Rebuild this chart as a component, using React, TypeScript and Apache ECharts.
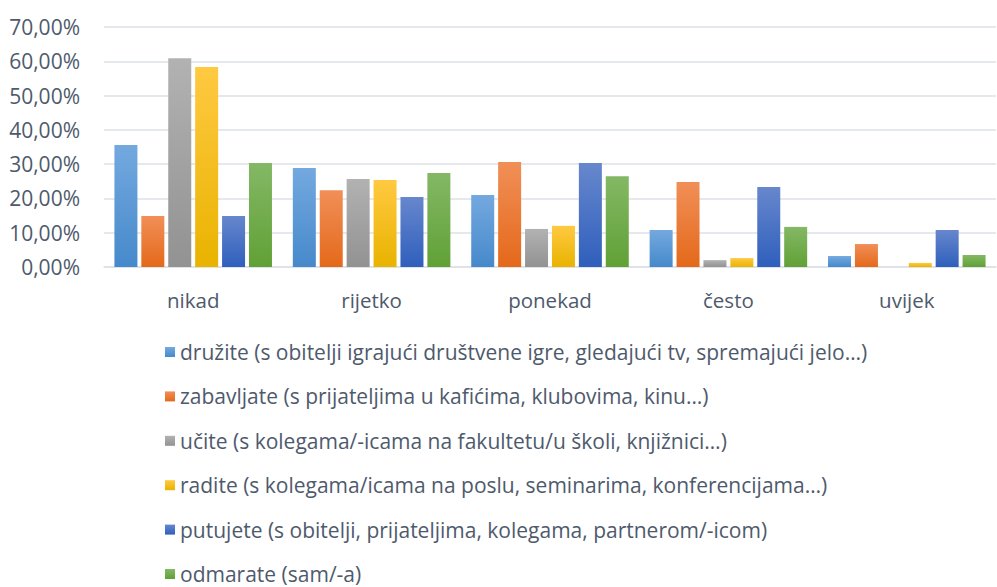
import React, { useEffect, useRef } from "react";
import * as echarts from "echarts";

const categories = ["nikad", "rijetko", "ponekad", "često", "uvijek"];
const seriesNames = [
  "družite (s obitelji igrajući društvene igre, gledajući tv, spremajući jelo…)",
  "zabavljate (s prijateljima u kafićima, klubovima, kinu…)",
  "učite (s kolegama/-icama na fakultetu/u školi, knjižnici…)",
  "radite (s kolegama/icama na poslu, seminarima, konferencijama…)",
  "putujete (s obitelji, prijateljima, kolegama, partnerom/-icom)",
  "odmarate (sam/-a)",
];
const druzite = [35.6, 28.9, 21.0, 10.8, 3.2];
const zabavljate = [14.9, 22.4, 30.6, 24.8, 6.7];
const ucite = [60.9, 25.7, 11.1, 2.0, 0];
const radite = [58.3, 25.4, 12.0, 2.6, 1.2];
const putujete = [14.9, 20.4, 30.3, 23.3, 10.8];
const odmarate = [30.3, 27.4, 26.5, 11.7, 3.5];
const seriesValues = [druzite, zabavljate, ucite, radite, putujete, odmarate];
const yTicks = { min: 0, max: 70, interval: 10 };

const gradients: [string, string][] = [
  ["#74a9df", "#4689cb"],
  ["#f18f58", "#e4691a"],
  ["#b2b2b2", "#929292"],
  ["#ffc942", "#e9b300"],
  ["#6787cd", "#2f5fbc"],
  ["#84b865", "#60a136"],
];

const TEXT = "#4e5a6c";
const FONT = "'Open Sans', sans-serif";

export default function App() {
  const ref = useRef<HTMLDivElement>(null);
  useEffect(() => {
    if (!ref.current) return;
    const chart = echarts.init(ref.current, undefined, { renderer: "svg" });
    chart.setOption({
      animation: false,
      textStyle: { fontFamily: FONT },
      grid: { left: 104, right: 1, top: 27, bottom: 320, containLabel: false },
      legend: {
        orient: "vertical",
        left: 165,
        top: 341,
        height: 250,
        padding: 0,
        itemWidth: 10,
        itemHeight: 10,
        itemGap: 22.4,
        icon: "rect",
        textStyle: { color: TEXT, fontSize: 21, fontFamily: FONT, lineHeight: 22, padding: [0, 0, 0, 0] },
        data: seriesNames,
      },
      xAxis: {
        type: "category",
        data: categories,
        axisLine: { lineStyle: { color: "#dde1e7", width: 1.5 } },
        axisTick: { show: false },
        axisLabel: { color: TEXT, fontSize: 20.5, fontFamily: FONT, margin: 22 },
      },
      yAxis: {
        type: "value",
        min: yTicks.min,
        max: yTicks.max,
        interval: yTicks.interval,
        axisLine: { show: false },
        axisTick: { show: false },
        splitLine: { lineStyle: { color: "#dde1e7", width: 1.5 } },
        axisLabel: {
          color: TEXT,
          fontSize: 21,
          fontFamily: FONT,
          margin: 24,
          formatter: (v: number) => v.toFixed(2).replace(".", ",") + "%",
        },
      },
      series: seriesNames.map((name, i) => ({
        name,
        type: "bar",
        data: seriesValues[i],
        barWidth: 23,
        barGap: "17%",
        itemStyle: {
          color: new echarts.graphic.LinearGradient(0, 0, 0, 1, [
            { offset: 0, color: gradients[i][0] },
            { offset: 1, color: gradients[i][1] },
          ]),
        },
      })),
    });
    return () => chart.dispose();
  }, []);
  return (
    <div
      ref={ref}
      style={{ position: "fixed", left: 0, top: 0, width: 997, height: 587, background: "#fff" }}
    />
  );
}
